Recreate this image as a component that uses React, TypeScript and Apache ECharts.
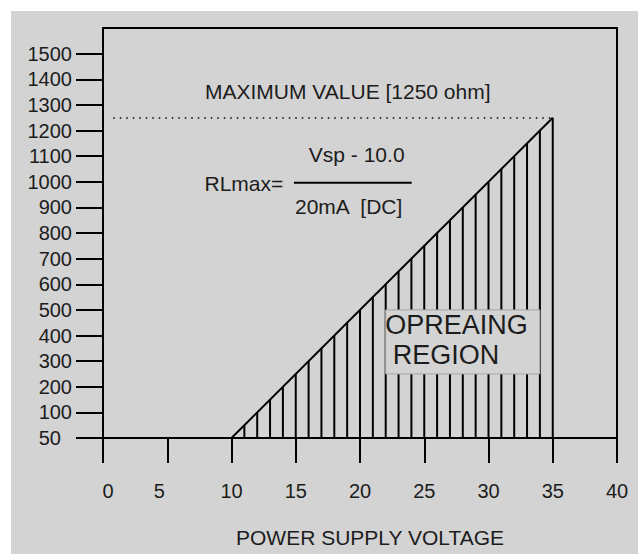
import React, { useEffect, useRef } from "react";
import * as echarts from "echarts";

// ---- data ----
const LINE_X = [10, 35];
const LINE_Y = [0, 1250];
const HATCH_X = [11, 12, 13, 14, 15, 16, 17, 18, 19, 20, 21, 22, 23, 24, 25, 26, 27, 28, 29, 30, 31, 32, 33, 34, 35];
const HATCH_TOP = [50, 100, 150, 200, 250, 300, 350, 400, 450, 500, 550, 600, 650, 700, 750, 800, 850, 900, 950, 1000, 1050, 1100, 1150, 1200, 1250];
const MAX_VALUE = 1250;
const Y_TICKS = [0, 100, 200, 300, 400, 500, 600, 700, 800, 900, 1000, 1100, 1200, 1300, 1400, 1500];
const Y_LABELS = ["50", "100", "200", "300", "400", "500", "600", "700", "800", "900", "1000", "1100", "1200", "1300", "1400", "1500"];
const X_TICKS = [0, 5, 10, 15, 20, 25, 30, 35, 40];
const REGION_BOX = [22, 500, 34, 250]; // x1, yTop, x2, yBottom in data units
const REGION_TEXT = ["OPREAING", " REGION"];

const FONT = "'Liberation Sans', Arial, sans-serif";
const TXT = "#1c1c1c";
const BG = "#d3d3d3";

export default function App() {
  const ref = useRef<HTMLDivElement>(null);
  useEffect(() => {
    if (!ref.current) return;
    const chart = echarts.init(ref.current, null, { renderer: "svg" });
    const option: any = {
      animation: false,
      backgroundColor: BG,
      grid: {
        left: 92,
        top: 17,
        width: 514,
        height: 410,
        show: true,
        borderColor: "#000",
        borderWidth: 2,
        backgroundColor: "transparent",
        outerBoundsMode: "none",
      },
      xAxis: {
        type: "value",
        min: 0,
        max: 40,
        interval: 5,
        splitLine: { show: false },
        axisLine: { show: true, onZero: false, lineStyle: { color: "#000", width: 2 } },
        axisTick: { show: true, length: 25, lineStyle: { color: "#000", width: 2 }, customValues: X_TICKS },
        axisLabel: {
          margin: 43,
          fontSize: 20,
          fontFamily: FONT,
          color: TXT,
          customValues: X_TICKS,
          formatter: (v: number) => (v === 0 ? "{a|0}" : v === 5 ? "{b|5}" : String(v)),
          rich: {
            a: { fontSize: 20, fontFamily: FONT, color: TXT, padding: [0, 0, 0, 10] },
            b: { fontSize: 20, fontFamily: FONT, color: TXT, padding: [0, 16, 0, 0] },
          },
        },
        name: "POWER SUPPLY VOLTAGE",
        nameLocation: "middle",
        nameGap: 89,
        nameTextStyle: { fontSize: 21, fontFamily: FONT, color: TXT, padding: [0, 0, 0, 20] },
      },
      yAxis: {
        type: "value",
        min: 0,
        max: 1600,
        interval: 100,
        splitLine: { show: false },
        axisLine: { show: true, onZero: false, lineStyle: { color: "#000", width: 2 } },
        axisTick: { show: true, length: 27, lineStyle: { color: "#000", width: 2 }, customValues: Y_TICKS },
        axisLabel: {
          margin: 31,
          fontSize: 20,
          fontFamily: FONT,
          color: TXT,
          customValues: Y_TICKS,
          formatter: (v: number) => {
            const i = Y_TICKS.indexOf(v);
            const s = i >= 0 ? Y_LABELS[i] : "";
            return i === 0 ? "{f|" + s + "}" : s;
          },
          rich: { f: { fontSize: 20, fontFamily: FONT, color: TXT, padding: [0, 11, 0, 0] } },
        },
      },
      series: [
        {
          type: "custom",
          z: 2,
          silent: true,
          data: HATCH_X.map((x, i) => [x, HATCH_TOP[i]]),
          renderItem: (_p: any, api: any) => {
            const x = api.value(0);
            const top = api.value(1);
            const a = api.coord([x, 0]);
            const b = api.coord([x, top]);
            return {
              type: "line",
              shape: { x1: a[0], y1: a[1], x2: b[0], y2: b[1] },
              style: { stroke: "#000", lineWidth: 2 },
            };
          },
        },
        {
          type: "line",
          z: 3,
          silent: true,
          symbol: "none",
          data: LINE_X.map((x, i) => [x, LINE_Y[i]]),
          lineStyle: { color: "#000", width: 2 },
          markLine: {
            silent: true,
            symbol: ["none", "none"],
            label: { show: false },
            lineStyle: { color: "#000", width: 1.5, type: [1.5, 5] },
            data: [[{ coord: [0.8, MAX_VALUE] }, { coord: [35, MAX_VALUE] }]],
          },
        },
        {
          type: "custom",
          z: 6,
          silent: true,
          data: [REGION_BOX],
          renderItem: (_p: any, api: any) => {
            const p1 = api.coord([api.value(0), api.value(1)]);
            const p2 = api.coord([api.value(2), api.value(3)]);
            return {
              type: "group",
              children: [
                {
                  type: "rect",
                  shape: { x: p1[0], y: p1[1], width: p2[0] - p1[0], height: p2[1] - p1[1] },
                  style: { fill: BG, stroke: "#a6a6a6", lineWidth: 1 },
                },
                {
                  type: "text",
                  x: p1[0] - 0.5,
                  y: p1[1] + 15.5,
                  style: { text: REGION_TEXT[0], fontSize: 27, fontFamily: FONT, fill: TXT, verticalAlign: "middle", align: "left" },
                },
                {
                  type: "text",
                  x: p1[0] - 0.5,
                  y: p1[1] + 45,
                  style: { text: REGION_TEXT[1], fontSize: 27, fontFamily: FONT, fill: TXT, verticalAlign: "middle", align: "left" },
                },
              ],
            };
          },
        },
      ],
      graphic: [
        {
          type: "text",
          x: 194,
          y: 80.5,
          z: 10,
          style: { text: "MAXIMUM VALUE [1250 ohm]", fontSize: 21, fontFamily: FONT, fill: TXT, verticalAlign: "middle" },
        },
        {
          type: "text",
          x: 193.5,
          y: 172,
          z: 10,
          style: { text: "RLmax=", fontSize: 21, fontFamily: FONT, fill: TXT, verticalAlign: "middle" },
        },
        {
          type: "line",
          z: 10,
          shape: { x1: 283, y1: 171.7, x2: 400.7, y2: 171.7 },
          style: { stroke: "#000", lineWidth: 2 },
        },
        {
          type: "text",
          x: 345.7,
          y: 143,
          z: 10,
          style: { text: "Vsp - 10.0", fontSize: 21, fontFamily: FONT, fill: TXT, align: "center", verticalAlign: "middle" },
        },
        {
          type: "text",
          x: 284,
          y: 195.7,
          z: 10,
          style: { text: "20mA  [DC]", fontSize: 21, fontFamily: FONT, fill: TXT, align: "left", verticalAlign: "middle" },
        },
      ],
    };
    chart.setOption(option);
    return () => chart.dispose();
  }, []);

  return (
    <div style={{ position: "fixed", left: 0, top: 0, width: 638, height: 554, background: "#ffffff" }}>
      <div ref={ref} style={{ position: "absolute", left: 11, top: 11, width: 627, height: 543 }} />
    </div>
  );
}
